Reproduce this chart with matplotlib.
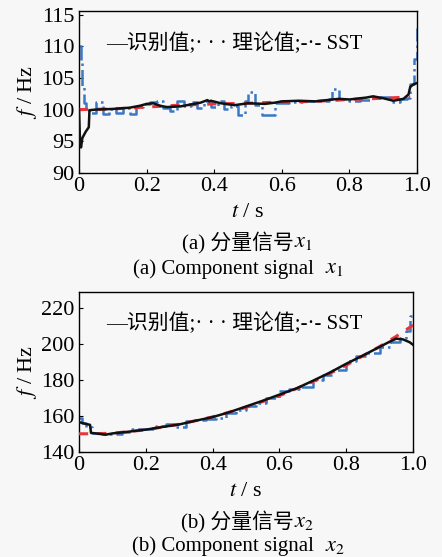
import matplotlib
matplotlib.use('Agg')
import matplotlib.pyplot as plt

plt.rcParams['font.family'] = ['Liberation Serif', 'Noto Sans CJK SC']
plt.rcParams['mathtext.fontset'] = 'stix'

# ---- (a) component x1 ----
theory_t1 = [0, 0.1, 0.2, 0.3, 0.4, 0.5, 0.6, 0.7, 0.8, 0.9, 0.98]
theory_f1 = [100.0, 100.1, 100.4, 100.7, 100.9, 101.0, 101.2, 101.3, 101.6, 101.8, 102.0]

ident_t1 = [0, 0.003, 0.006, 0.01, 0.02, 0.029, 0.031, 0.05, 0.1, 0.15, 0.18, 0.2, 0.22,
            0.24, 0.26, 0.3, 0.33, 0.36, 0.38, 0.385, 0.39, 0.42, 0.46, 0.5, 0.55, 0.58,
            0.6, 0.65, 0.7, 0.75, 0.77, 0.8, 0.85, 0.87, 0.9, 0.93, 0.96, 0.975, 0.98,
            0.99, 1.0]
ident_f1 = [100, 95, 94, 95.5, 96.5, 97.2, 99.9, 100.0, 100.1, 100.3, 100.6, 100.9, 101.0,
            100.6, 100.4, 100.5, 100.8, 101.1, 101.5, 101.3, 101.4, 101.0, 100.7, 101.0,
            100.9, 101.1, 101.3, 101.4, 101.3, 101.6, 101.7, 101.6, 101.9, 102.1, 101.8,
            101.4, 101.7, 102.4, 103.6, 104.0, 104.2]

sst_t1 = [0, 0.005, 0.01, 0.015, 0.02, 0.03, 0.05, 0.07, 0.09, 0.11, 0.13, 0.15, 0.17,
          0.19, 0.21, 0.23, 0.25, 0.27, 0.29, 0.31, 0.33, 0.35, 0.37, 0.39, 0.41, 0.43,
          0.45, 0.47, 0.49, 0.5, 0.52, 0.54, 0.56, 0.58, 0.62, 0.66, 0.7, 0.74, 0.75,
          0.77, 0.8, 0.83, 0.86, 0.89, 0.92, 0.95, 0.97, 0.98, 0.99, 1.0]
sst_f1 = [110, 107.5, 103.5, 101, 100.2, 99.4, 101.2, 99.3, 100.1, 99.5, 100.2, 99.3,
          100.4, 100.9, 101.2, 101.3, 100.3, 99.8, 101.3, 100.5, 101.2, 100.2, 101.4,
          100.4, 101.3, 100.1, 100.6, 99.2, 101.4, 102.8, 100.7, 99.2, 99.2, 101.0,
          101.2, 101.3, 101.4, 101.7, 103.3, 101.6, 101.3, 101.5, 101.9, 102.0, 101.2,
          101.6, 101.8, 104, 108, 113]

# ---- (b) component x2 ----
theory_t2 = [0, 0.04, 0.1, 0.2, 0.3, 0.4, 0.5, 0.6, 0.7, 0.8, 0.9, 0.95, 1.0]
theory_f2 = [150, 150, 150.3, 152.2, 155.3, 159.4, 164.7, 171.2, 179.0, 188.2, 198.6,
             204.3, 210.5]

ident_t2 = [0, 0.02, 0.033, 0.036, 0.06, 0.08, 0.1, 0.15, 0.2, 0.25, 0.3, 0.35, 0.4,
            0.45, 0.5, 0.55, 0.6, 0.65, 0.7, 0.75, 0.8, 0.85, 0.9, 0.93, 0.95, 0.97,
            0.99, 1.0]
ident_f2 = [156.5, 155.5, 155.0, 150.5, 150, 149.5, 150.2, 151.2, 152.3, 153.8, 155.2,
            157.3, 159.3, 162.0, 165.2, 168.4, 171.8, 175.2, 179.5, 184.0, 189.0, 193.6,
            198.4, 201.3, 203.0, 202.6, 201.0, 199.6]

sst_t2 = [0, 0.01, 0.02, 0.04, 0.07, 0.1, 0.13, 0.16, 0.2, 0.23, 0.26, 0.29, 0.32, 0.35,
          0.38, 0.41, 0.44, 0.47, 0.5, 0.53, 0.56, 0.6, 0.63, 0.66, 0.7, 0.73, 0.76, 0.8,
          0.83, 0.86, 0.9, 0.93, 0.96, 0.98, 0.99, 1.0]
sst_f2 = [159, 156, 154, 150.5, 149.7, 150.0, 151.2, 152.4, 152.8, 154.3, 155.5, 153.5,
          157.0, 157.8, 158.5, 159.0, 161.5, 163.3, 165.5, 167.0, 169.8, 173.8, 175.0,
          176.2, 179.8, 182.5, 185.5, 190.5, 193.3, 195.0, 198.5, 201.0, 203.5, 207,
          215.5, 215.5]

bg = '#f7f7f7'
fig = plt.figure(figsize=(4.42, 5.57), dpi=100, facecolor=bg)

ax1 = fig.add_axes([0.1787, 0.690, 0.7647, 0.290], facecolor=bg)
ax2 = fig.add_axes([0.1787, 0.189, 0.7557, 0.2868], facecolor=bg)

panels = [
    (ax1, theory_t1, theory_f1, ident_t1, ident_f1, sst_t1, sst_f1,
     (90, 115.6), [90, 95, 100, 105, 110, 115]),
    (ax2, theory_t2, theory_f2, ident_t2, ident_f2, sst_t2, sst_f2,
     (140, 229), [140, 160, 180, 200, 220]),
]

for ax, tt, tf, it, iff, st, sf, ylim, yt in panels:
    ax.plot(st, sf, color='#3b78c6', lw=1.8, ls='-.', drawstyle='steps-post', zorder=2)
    ax.plot(tt, tf, color='#e8353b', lw=2.2, ls=(0, (3, 3)), zorder=3)
    ax.plot(it, iff, color='#111111', lw=1.8, zorder=4)
    ax.set_xlim(0, 1.0)
    ax.set_ylim(*ylim)
    ax.set_yticks(yt)
    ax.set_xticks([0, 0.2, 0.4, 0.6, 0.8, 1.0])
    ax.set_xticklabels(['0', '0.2', '0.4', '0.6', '0.8', '1.0'])
    ax.tick_params(direction='in', length=3, width=0.8, labelsize=16, pad=3)
    for s in ax.spines.values():
        s.set_linewidth(1.0)
    ax.set_ylabel(r'$f$ / Hz', fontsize=16, labelpad=2)
    ax.set_xlabel(r'$t$ / s', fontsize=16, labelpad=5)
    ax.text(0.08, 0.80, '—识别值;· · · 理论值;-·- SST', transform=ax.transAxes,
            fontsize=15, va='center', ha='left')

# captions: chinese part and math part as separate texts so the CJK fallback works
captions = [
    ('(a) 分量信号', r'$x_1$', '(a) Component signal  ', r'$x_1$', 243, 269),
    ('(b) 分量信号', r'$x_2$', '(b) Component signal  ', r'$x_2$', 522, 546),
]
for cn, cm, en, em, ycn, yen in captions:
    fig.text(0.665, 1 - ycn / 557, cn, ha='right', va='center', fontsize=15)
    fig.text(0.665, 1 - ycn / 557, cm, ha='left', va='center', fontsize=16)
    fig.text(0.735, 1 - yen / 557, en, ha='right', va='center', fontsize=15)
    fig.text(0.735, 1 - yen / 557, em, ha='left', va='center', fontsize=16)

fig.savefig('out.png', dpi=100, facecolor=bg)
